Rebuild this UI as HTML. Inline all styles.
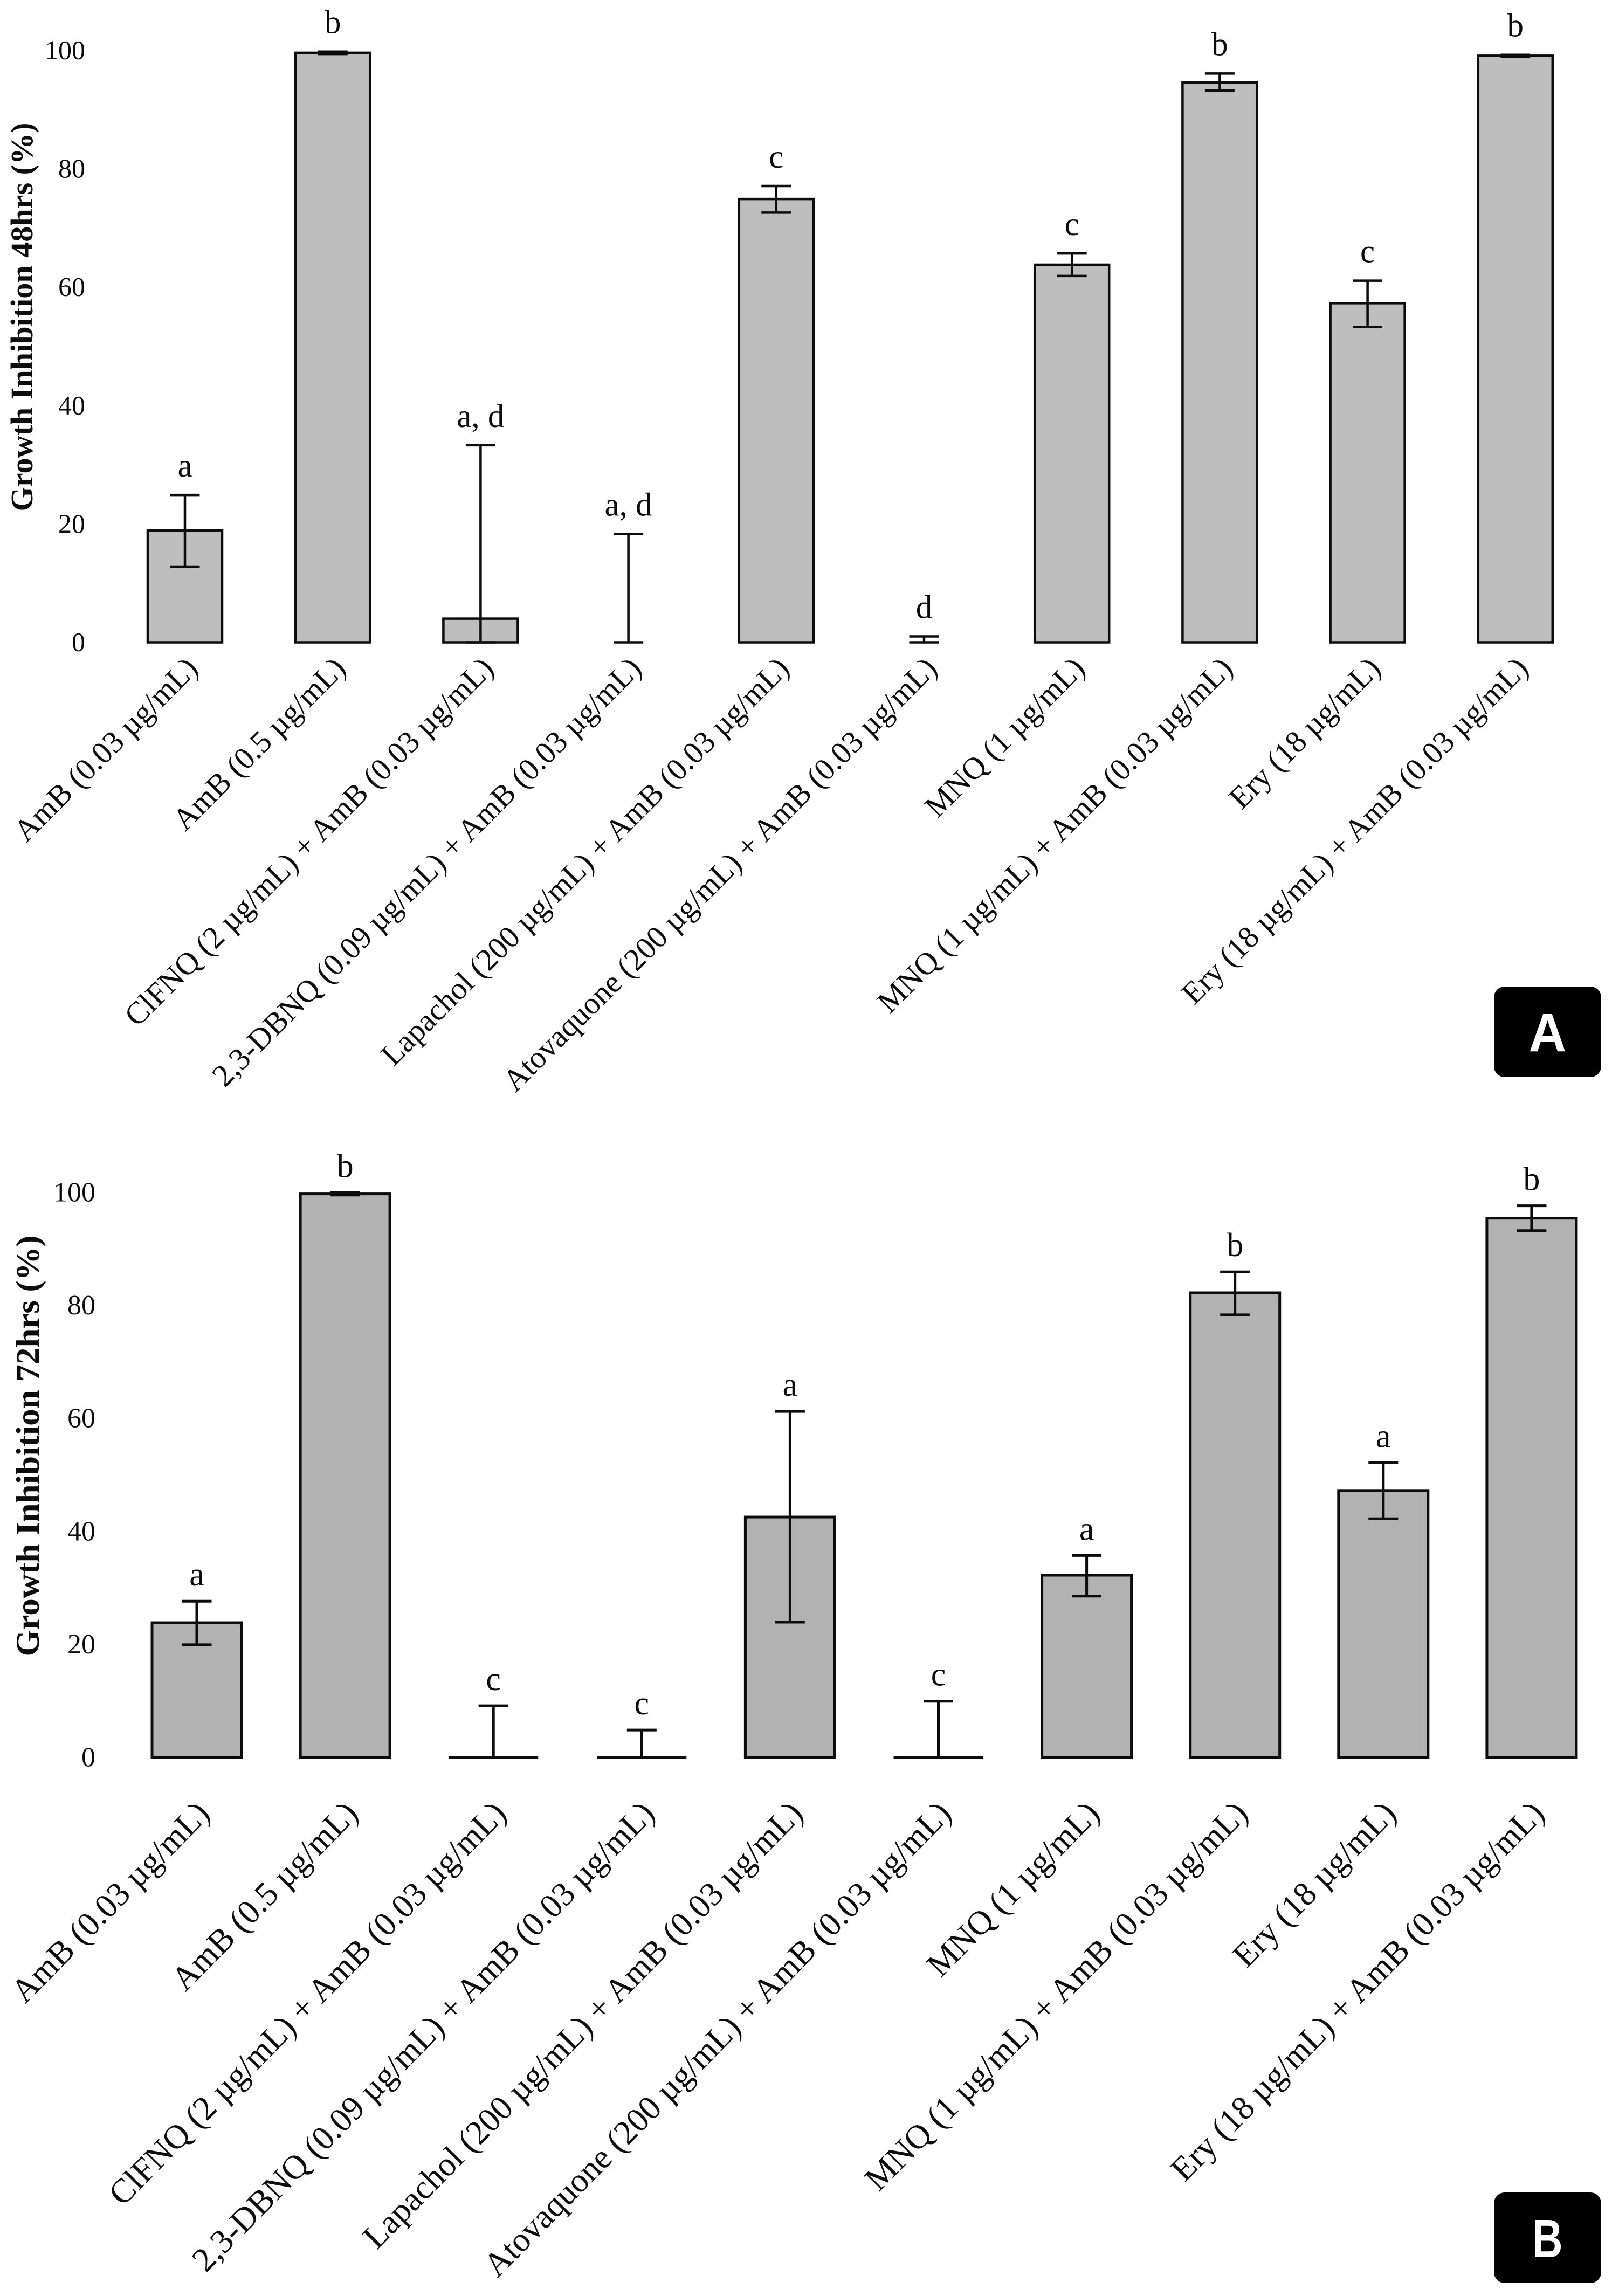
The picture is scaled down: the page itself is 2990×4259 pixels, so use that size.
<!DOCTYPE html>
<html lang="en">
<head>
<meta charset="utf-8">
<title>Growth inhibition at 48 and 72 hours</title>
<style>
  html, body { margin: 0; padding: 0; background: #fff; }
  svg { display: block; }
  text { font-family: "Liberation Serif", "Times New Roman", serif; fill: #0c0c0c; }
  .badge-letter { font-family: "Liberation Sans", sans-serif; font-weight: 700; fill: #fff; }
</style>
</head>
<body>
<svg id="chart" xmlns="http://www.w3.org/2000/svg" width="2990" height="4259" viewBox="0 0 2990 4259"></svg>
<script>
const categories = [
  "AmB (0.03 µg/mL)",
  "AmB (0.5 µg/mL)",
  "ClFNQ (2 µg/mL) + AmB (0.03 µg/mL)",
  "2,3-DBNQ (0.09 µg/mL) + AmB (0.03 µg/mL)",
  "Lapachol (200 µg/mL) + AmB (0.03 µg/mL)",
  "Atovaquone (200 µg/mL) + AmB (0.03 µg/mL)",
  "MNQ (1 µg/mL)",
  "MNQ (1 µg/mL) + AmB (0.03 µg/mL)",
  "Ery (18 µg/mL)",
  "Ery (18 µg/mL) + AmB (0.03 µg/mL)"
];
const yTicks = [0, 20, 40, 60, 80, 100];

const values48 = [18.9, 99.6, 4.0, 0, 74.9, 0, 63.8, 94.6, 57.3, 99.1];
const errHigh48 = [24.9, 99.8, 33.3, 18.3, 77.1, 1.0, 65.7, 96.1, 61.1, 99.25];
const errLow48 = [12.8, 99.4, 0, 0, 72.6, 0, 61.9, 93.2, 53.3, 98.95];
const letters48 = ["a", "b", "a, d", "a, d", "c", "d", "c", "b", "c", "b"];

const values72 = [23.9, 99.8, 0, 0, 42.6, 0, 32.3, 82.3, 47.3, 95.5];
const errHigh72 = [27.7, 100, 9.2, 4.9, 61.3, 10.0, 35.8, 86.0, 52.2, 97.7];
const errLow72 = [20.0, 99.6, 0, 0, 24.0, 0, 28.6, 78.4, 42.3, 93.3];
const letters72 = ["a", "b", "c", "c", "a", "c", "a", "b", "a", "b"];

const SVG_NS = "http://www.w3.org/2000/svg";
const root = document.getElementById("chart");

function make(parent, tag, attrs, content) {
  const el = document.createElementNS(SVG_NS, tag);
  for (const k in attrs) el.setAttribute(k, attrs[k]);
  if (content !== undefined) el.textContent = content;
  parent.appendChild(el);
  return el;
}

function drawPanel(cfg) {
  const xScale = i => cfg.x0 + cfg.xStep * i;
  const yScale = v => cfg.y0 - v * cfg.yUnit;

  const group = make(root, "g", {});
  
  

  const title = make(group, "text", {
    x: 0, y: 0,
    transform: "translate(" + cfg.titleX + "," + cfg.titleY + ") rotate(-90)",
    "text-anchor": "middle",
    "font-size": cfg.titleSize,
    "font-weight": "700",
    textLength: cfg.titleLength,
    lengthAdjust: "spacingAndGlyphs"
  }, cfg.title);
  
  

  yTicks.forEach(t => {
    const tick = make(group, "text", {
      x: cfg.tickRight,
      y: yScale(t) + cfg.tickDy,
      "text-anchor": "end",
      "font-size": cfg.tickSize
    }, String(t));
    
    
  });

  categories.forEach((name, i) => {
    const cx = xScale(i);
    const v = cfg.values[i];
    const hi = cfg.high[i];
    const lo = cfg.low[i];

    if (v > 0) {
      const bar = make(group, "rect", {
        x: cx - cfg.barWidth / 2,
        y: yScale(v),
        width: cfg.barWidth,
        height: yScale(0) - yScale(v),
        fill: cfg.fill,
        stroke: "#0c0c0c",
        "stroke-width": cfg.stroke
      });
      
      
    } else if (cfg.zeroLine) {
      const flat = make(group, "line", {
        x1: cx - cfg.barWidth / 2, x2: cx + cfg.barWidth / 2,
        y1: yScale(0), y2: yScale(0),
        stroke: "#0c0c0c",
        "stroke-width": cfg.stroke
      });
      
      
    }

    const stem = make(group, "line", {
      x1: cx, x2: cx, y1: yScale(hi), y2: yScale(lo),
      stroke: "#0c0c0c", "stroke-width": cfg.stroke
    });
    
    

    const capHigh = make(group, "line", {
      x1: cx - cfg.capWidth / 2, x2: cx + cfg.capWidth / 2,
      y1: yScale(hi), y2: yScale(hi),
      stroke: "#0c0c0c", "stroke-width": cfg.stroke
    });
    
    

    const capLow = make(group, "line", {
      x1: cx - cfg.capWidth / 2, x2: cx + cfg.capWidth / 2,
      y1: yScale(lo), y2: yScale(lo),
      stroke: "#0c0c0c", "stroke-width": cfg.stroke
    });
    
    

    const letter = make(group, "text", {
      x: cx,
      y: yScale(hi) - cfg.letterGap,
      "text-anchor": "middle",
      "font-size": cfg.letterSize
    }, cfg.letters[i]);
    
    

    const label = make(group, "text", {
      x: 0, y: 0,
      transform: "translate(" + (cx + cfg.labelDx) + "," + cfg.labelY + ") rotate(" + cfg.labelAngle + ")",
      "text-anchor": "end",
      "font-size": cfg.labelSize
    }, name);
    
    
  });

  const badge = make(group, "rect", {
    x: 2771, y: cfg.badgeY, width: 199, height: cfg.badgeH, rx: 20, ry: 20, fill: "#000"
  });
  
  

  const badgeLetter = make(group, "text", {
    x: 2870.5,
    y: cfg.badgeY + cfg.badgeH / 2 + 36,
    "text-anchor": "middle",
    "font-size": 100,
    textLength: cfg.badgeLetterWidth,
    lengthAdjust: "spacingAndGlyphs",
    "class": "badge-letter"
  }, cfg.badge);
  
  
}

drawPanel({
  id: "panel-a", badge: "A", title: "Growth Inhibition 48hrs (%)",
  values: values48, high: errHigh48, low: errLow48, letters: letters48,
  x0: 343, xStep: 274.2, y0: 1191.5, yUnit: 10.98,
  barWidth: 138, capWidth: 55, stroke: 4.5, fill: "#bebebe", zeroLine: false,
  titleX: 60, titleY: 588, titleSize: 58, titleLength: 721,
  tickRight: 158, tickDy: 16, tickSize: 50,
  letterGap: 34, letterSize: 61,
  labelDx: 27, labelY: 1243, labelSize: 58, labelAngle: -45,
  badgeY: 1830, badgeH: 168, badgeLetterWidth: 70
});

drawPanel({
  id: "panel-b", badge: "B", title: "Growth Inhibition 72hrs (%)",
  values: values72, high: errHigh72, low: errLow72, letters: letters72,
  x0: 365, xStep: 275.1, y0: 3260.5, yUnit: 10.48,
  barWidth: 166, capWidth: 55, stroke: 5, fill: "#b2b2b2", zeroLine: true,
  titleX: 72, titleY: 2682, titleSize: 61, titleLength: 781,
  tickRight: 177, tickDy: 16, tickSize: 52,
  letterGap: 29, letterSize: 62,
  labelDx: 27, labelY: 3367, labelSize: 63, labelAngle: -45.5,
  badgeY: 4067, badgeH: 168, badgeLetterWidth: 56
});
</script>
</body>
</html>
